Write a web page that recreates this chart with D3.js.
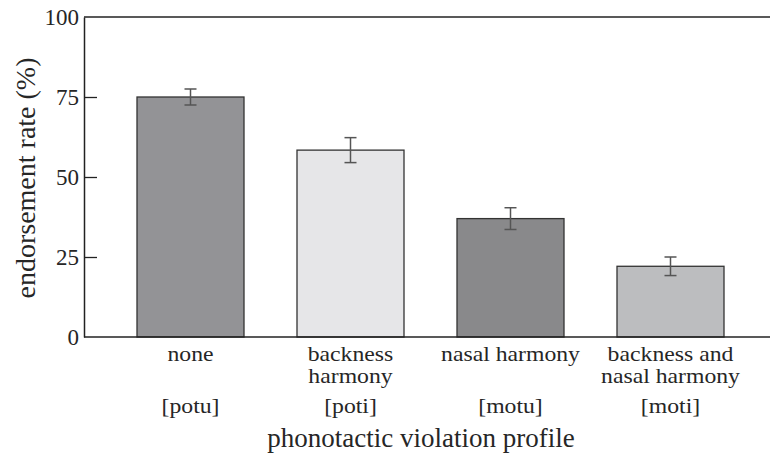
<!DOCTYPE html>
<html>
<head>
<meta charset="utf-8">
<script src="https://cdn.jsdelivr.net/npm/d3@7"></script>
<style>
  html, body { margin: 0; padding: 0; background: #fff; }
  svg { display: block; }
</style>
</head>
<body>
<svg id="chart" width="770" height="455"></svg>
<script>
// ---- data ----
const categories = ["none", "backness harmony", "nasal harmony", "backness and nasal harmony"];
const labelLines = [["none"], ["backness", "harmony"], ["nasal harmony"], ["backness and", "nasal harmony"]];
const forms = ["[potu]", "[poti]", "[motu]", "[moti]"];
const values = [75, 58.4, 37, 22.1];
const errors = [2.5, 3.9, 3.4, 2.9];
const barColors = ["#939396", "#e6e6e8", "#89898b", "#bcbdbf"];
const yTicks = [0, 25, 50, 75, 100];
const yTitle = "endorsement rate (%)";
const xTitle = "phonotactic violation profile";

// ---- layout ----
const svg = d3.select("#chart");
const mLeft = 84, mTop = 17, mBottom = 337, mRight = 777;
const FONT = '"Liberation Serif"';
const INK = "#262626";

const x = d3.scaleBand()
  .domain(categories)
  .range([mLeft, mRight])
  .paddingInner(0.33125)
  .paddingOuter(0.33125);

const y = d3.scaleLinear().domain([0, 100]).range([mBottom, mTop]);

// bars
svg.append("g").selectAll("rect")
  .data(categories)
  .join("rect")
  .attr("x", d => x(d))
  .attr("y", (d, i) => y(values[i]))
  .attr("width", x.bandwidth())
  .attr("height", (d, i) => y(0) - y(values[i]))
  .attr("fill", (d, i) => barColors[i])
  .attr("stroke", "#333")
  .attr("stroke-width", 1.3);

// error bars
const eb = svg.append("g").attr("stroke", "#555").attr("stroke-width", 1.5);
categories.forEach((c, i) => {
  const cx = x(c) + x.bandwidth() / 2;
  const y1 = y(values[i] + errors[i]), y2 = y(values[i] - errors[i]);
  eb.append("line").attr("x1", cx).attr("x2", cx).attr("y1", y1).attr("y2", y2);
  eb.append("line").attr("x1", cx - 6).attr("x2", cx + 6).attr("y1", y1).attr("y2", y1);
  eb.append("line").attr("x1", cx - 6).attr("x2", cx + 6).attr("y1", y2).attr("y2", y2);
});

// y axis
const yAxis = d3.axisLeft(y)
  .tickValues(yTicks)
  .tickSizeInner(-13)
  .tickSizeOuter(0)
  .tickPadding(5)
  .tickFormat(d3.format("d"));
const gy = svg.append("g").attr("transform", `translate(${mLeft},0)`).call(yAxis);
gy.attr("font-family", "Liberation Serif").attr("font-size", 23);
gy.select(".domain").attr("stroke", "#222").attr("stroke-width", 1.5);
gy.selectAll(".tick line").attr("stroke", "#222").attr("stroke-width", 1.3);
gy.selectAll(".tick").filter(d => d === 0 || d === 100).select("line").remove();
gy.selectAll(".tick text")
  .attr("font-family", "Liberation Serif")
  .style("font-family", FONT)
  .style("font-size", "23px")
  .attr("fill", INK);

// top and bottom frame lines
svg.append("line").attr("x1", mLeft).attr("x2", 770).attr("y1", y(100)).attr("y2", y(100))
  .attr("stroke", "#222").attr("stroke-width", 1.5);
svg.append("line").attr("x1", mLeft).attr("x2", 770).attr("y1", y(0)).attr("y2", y(0))
  .attr("stroke", "#222").attr("stroke-width", 1.5);

// category labels (horizontally widened to match the reference face)
const lab = svg.append("g").attr("text-anchor", "middle");
categories.forEach((c, i) => {
  const cx = x(c) + x.bandwidth() / 2;
  labelLines[i].forEach((ln, j) => {
    lab.append("text")
      .attr("transform", `translate(${cx},${361 + j * 22}) scale(1.13,1)`)
      .style("font-family", FONT).style("font-size", "21px").attr("fill", INK).text(ln);
  });
  lab.append("text")
    .attr("transform", `translate(${cx},413) scale(1.13,1)`)
    .style("font-family", FONT).style("font-size", "21px").attr("fill", INK).text(forms[i]);
});

// axis titles
svg.append("text")
  .attr("x", (mLeft + 770) / 2 - 6)
  .attr("y", 447)
  .attr("text-anchor", "middle")
  .style("font-family", FONT)
  .style("font-size", "27px")
  .attr("fill", INK)
  .text(xTitle);

svg.append("text")
  .attr("transform", `translate(35,178) rotate(-90)`)
  .attr("text-anchor", "middle")
  .style("font-family", FONT)
  .style("font-size", "28px")
  .attr("fill", INK)
  .text(yTitle);
</script>
</body>
</html>
